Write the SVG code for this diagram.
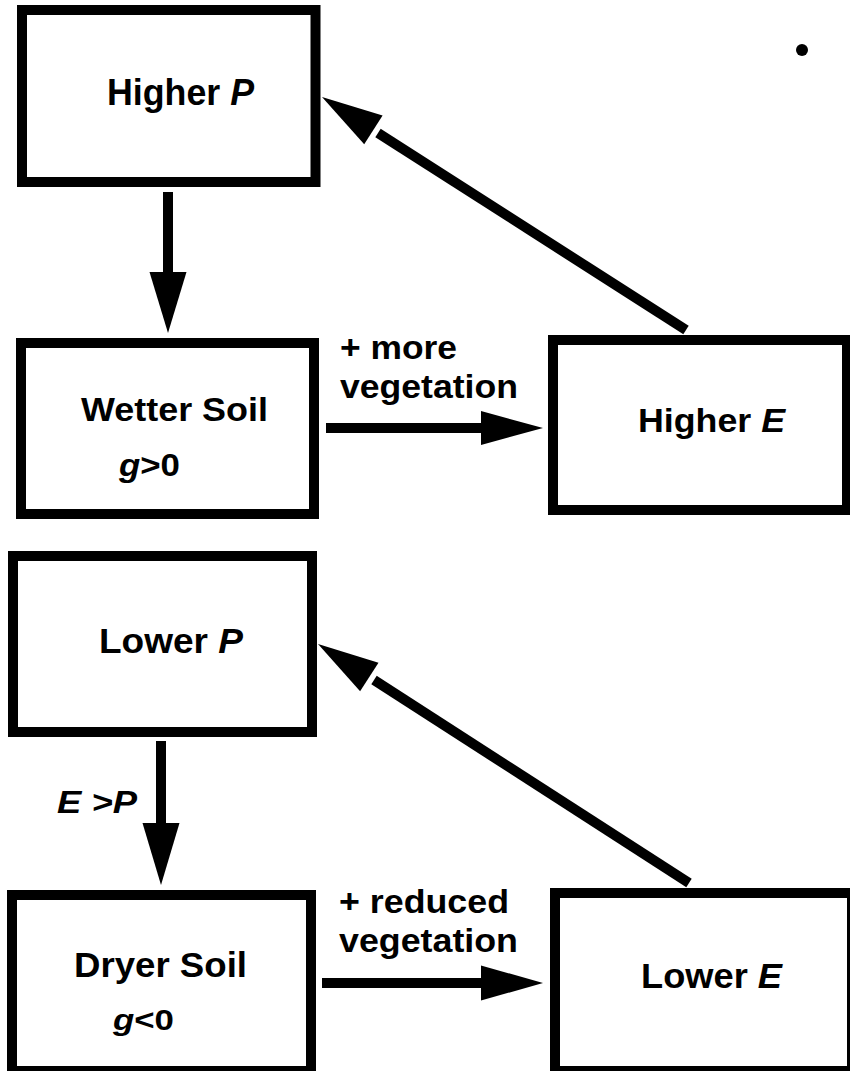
<svg xmlns="http://www.w3.org/2000/svg" width="850" height="1071" viewBox="0 0 850 1071">
<style>
.box{fill:#fff;stroke:#000;stroke-width:10}
.lbl{font-family:"Liberation Sans",Arial,sans-serif;font-weight:bold;fill:#000}
.it{font-style:italic}
.shaft{stroke:#000;stroke-width:10;fill:none}
.head{fill:#000;stroke:none}
</style>
<rect x="0" y="0" width="850" height="1071" fill="#fff"/>
<g id="connectors">
  <g id="a1"><line class="shaft" x1="168" y1="192" x2="168" y2="276"/><polygon class="head" points="149.5,272 186.5,272 168,333"/></g>
  <g id="a2"><line class="shaft" x1="326" y1="428" x2="485" y2="428"/><polygon class="head" points="481,411 481,445 543,428"/></g>
  <g id="a3"><line class="shaft" x1="686" y1="330" x2="378" y2="133"/><polygon class="head" points="322,97 382.6,115.6 364.2,144.2"/></g>
  <g id="a4"><line class="shaft" x1="161" y1="741" x2="161" y2="827"/><polygon class="head" points="142.5,823 179.5,823 161,885"/></g>
  <g id="a5"><line class="shaft" x1="322" y1="983" x2="485" y2="983"/><polygon class="head" points="481,965.5 481,1000.5 543,983"/></g>
  <g id="a6"><line class="shaft" x1="689" y1="883" x2="374" y2="680"/><polygon class="head" points="318,644 378.5,662.7 360.1,691.3"/></g>
</g>
<g id="higherP"><rect class="box" x="22" y="10" width="293.5" height="172"/>
  <text class="lbl" x="107" y="105" font-size="36" textLength="147" lengthAdjust="spacingAndGlyphs">Higher <tspan class="it">P</tspan></text></g>
<g id="wetterSoil"><rect class="box" x="21" y="343" width="293" height="171"/>
  <text class="lbl" x="81" y="421" font-size="33.5" textLength="187" lengthAdjust="spacingAndGlyphs">Wetter Soil</text>
  <text class="lbl" x="119" y="476" font-size="30.5" textLength="61" lengthAdjust="spacingAndGlyphs"><tspan class="it">g</tspan>&gt;0</text></g>
<g id="moreVeg">
  <text class="lbl" x="340" y="359" font-size="34" textLength="117" lengthAdjust="spacingAndGlyphs">+ more</text>
  <text class="lbl" x="340" y="398" font-size="34" textLength="178" lengthAdjust="spacingAndGlyphs">vegetation</text></g>
<g id="higherE"><rect class="box" x="553" y="340" width="294" height="170"/>
  <text class="lbl" x="638" y="432" font-size="34" textLength="147" lengthAdjust="spacingAndGlyphs">Higher <tspan class="it">E</tspan></text></g>
<g id="lowerP"><rect class="box" x="13" y="556" width="299" height="176"/>
  <text class="lbl" x="99" y="653" font-size="35" textLength="144" lengthAdjust="spacingAndGlyphs">Lower <tspan class="it">P</tspan></text></g>
<g id="eGtP"><text class="lbl it" x="57" y="813" font-size="32" textLength="80" lengthAdjust="spacingAndGlyphs">E &gt;P</text></g>
<g id="dryerSoil"><rect class="box" x="12" y="895" width="299" height="176"/>
  <text class="lbl" x="74" y="977" font-size="35" textLength="173" lengthAdjust="spacingAndGlyphs">Dryer Soil</text>
  <text class="lbl" x="113" y="1030" font-size="30" textLength="61" lengthAdjust="spacingAndGlyphs"><tspan class="it">g</tspan>&lt;0</text></g>
<g id="reducedVeg">
  <text class="lbl" x="339" y="913" font-size="34" textLength="170" lengthAdjust="spacingAndGlyphs">+ reduced</text>
  <text class="lbl" x="339" y="952" font-size="34" textLength="179" lengthAdjust="spacingAndGlyphs">vegetation</text></g>
<g id="lowerE"><rect class="box" x="555" y="893" width="297" height="178"/>
  <text class="lbl" x="641" y="988" font-size="35" textLength="141" lengthAdjust="spacingAndGlyphs">Lower <tspan class="it">E</tspan></text></g>
<circle cx="802" cy="50" r="6" fill="#000"/>
</svg>
